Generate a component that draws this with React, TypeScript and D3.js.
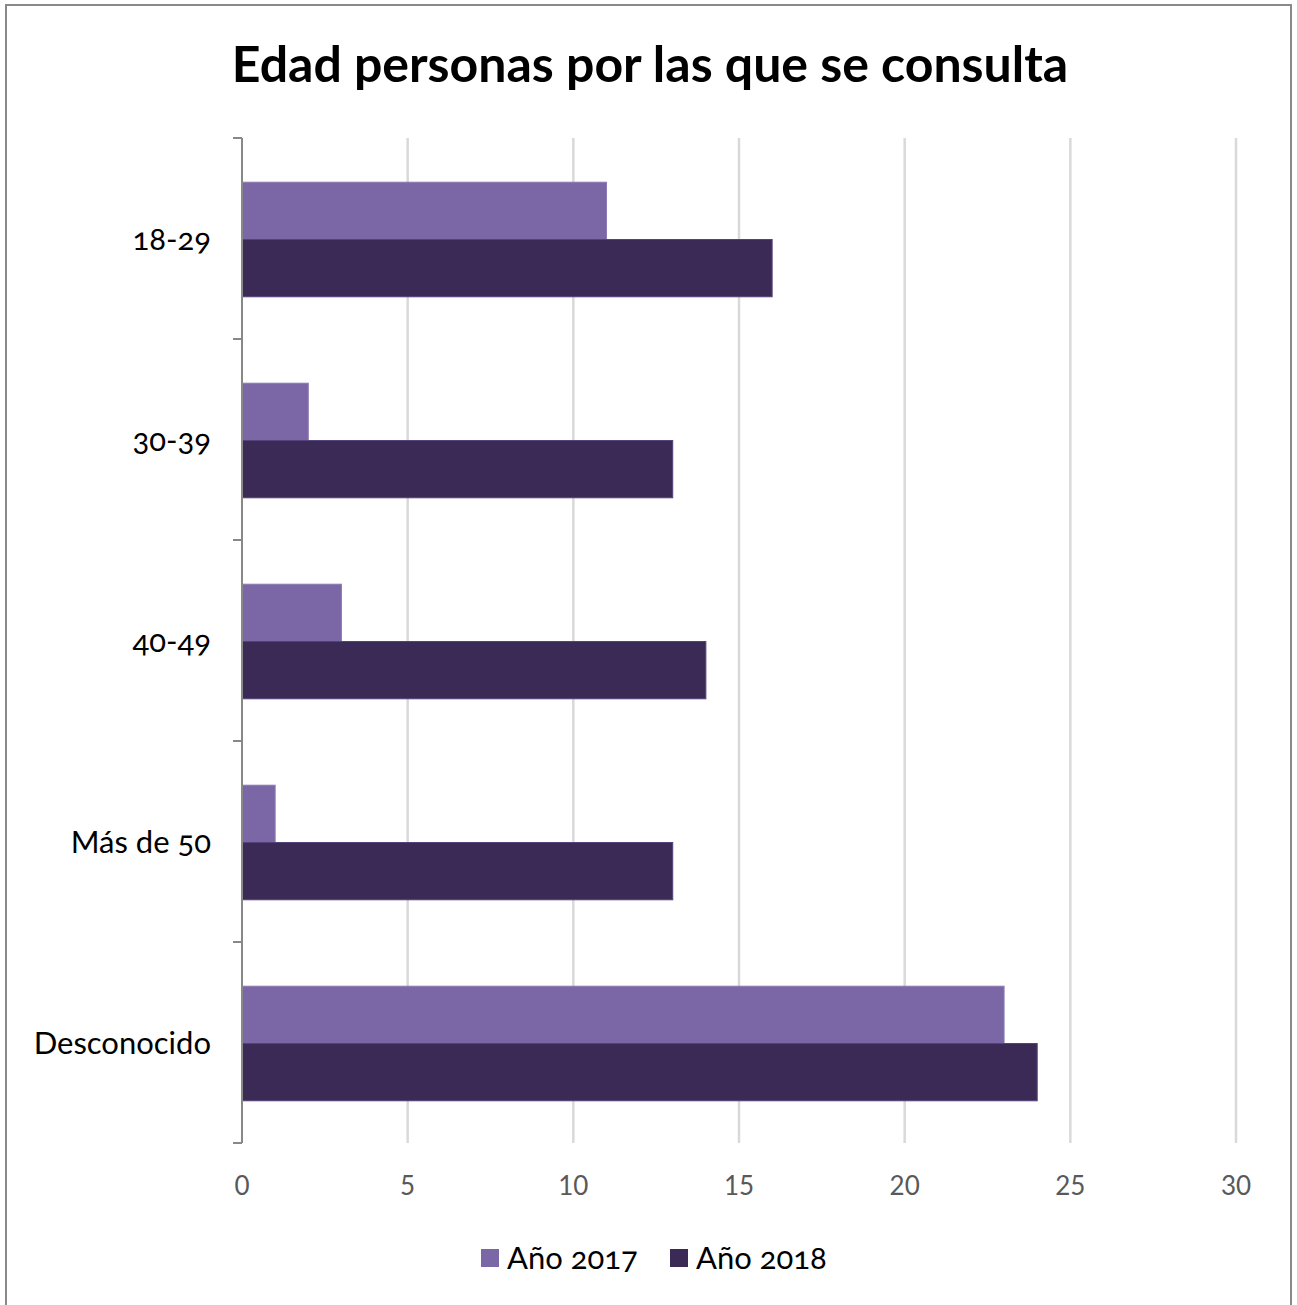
import React from 'react';
import * as d3 from 'd3';

const categories = ['18-29', '30-39', '40-49', 'Más de 50', 'Desconocido'];
const series = ['Año 2017', 'Año 2018'];
const values2017 = [11, 2, 3, 1, 23];
const values2018 = [16, 13, 14, 13, 24];
const xTicks = [0, 5, 10, 15, 20, 25, 30];

const colors = ['#7B67A6', '#3C2A56'];
const width = 1297;
const height = 1305;
const margin = { top: 138, right: 61, bottom: 162, left: 242 };
const font = 'Lato, "Open Sans", sans-serif';

const App: React.FC = () => {
    const xScale = d3.scaleLinear()
        .domain([0, 30])
        .range([margin.left, width - margin.right]);

    const yScale = d3.scaleBand<string>()
        .domain(categories)
        .range([margin.top, height - margin.bottom]);

    const barH = yScale.bandwidth() * 0.285;
    const rows = categories.map((c, i) => ({ label: c, vals: [values2017[i], values2018[i]] }));
    const bandEdges = categories.map(c => yScale(c)!).concat([height - margin.bottom]);

    return (
        <svg width={width} height={height} style={{ position: 'absolute', left: 0, top: 0, background: '#fff' }}>
            <rect x={6} y={5} width={1285} height={1310} fill="#fff" stroke="#898989" strokeWidth={2} />
            <text x={650} y={82} textAnchor="middle" fontFamily={font} fontWeight="bold" fontSize={50} fill="#000">
                Edad personas por las que se consulta
            </text>

            {/* gridlines */}
            {xTicks.slice(1).map(t => (
                <line key={t} x1={xScale(t)} x2={xScale(t)} y1={margin.top} y2={height - margin.bottom}
                      stroke="#d9d9d9" strokeWidth={2.5} />
            ))}

            {/* bars */}
            {rows.map(r => {
                const mid = yScale(r.label)! + yScale.bandwidth() / 2 + 1;
                return r.vals.map((v, j) => (
                    <rect key={r.label + j}
                          x={xScale(0)}
                          y={mid - barH + j * barH}
                          width={xScale(v) - xScale(0)}
                          height={barH}
                          fill={colors[j]}
                          stroke={j === 0 ? '#8a78b2' : '#54437a'}
                          strokeWidth={1} />
                ));
            })}

            {/* y axis */}
            <line x1={margin.left} x2={margin.left} y1={margin.top} y2={height - margin.bottom} stroke="#888" strokeWidth={2} />
            {bandEdges.map((y, i) => (
                <line key={i} x1={margin.left - 9} x2={margin.left} y1={y} y2={y} stroke="#888" strokeWidth={2} />
            ))}
            {categories.map(c => (
                <text key={c} x={211} y={yScale(c)! + yScale.bandwidth() / 2 + 1} dy="0.35em" textAnchor="end"
                      fontFamily={font} fontSize={31} fill="#000" style={{ fontVariantNumeric: 'oldstyle-nums' }}>
                    {c}
                </text>
            ))}

            {/* x tick labels */}
            {xTicks.map(t => (
                <text key={t} x={xScale(t)} y={1186} dy="0.35em" textAnchor="middle"
                      fontFamily={font} fontSize={26} fill="#595959">
                    {t}
                </text>
            ))}

            {/* legend */}
            {series.map((s, i) => {
                const lx = i === 0 ? 481 : 670;
                return (
                    <g key={s}>
                        <rect x={lx} y={1249} width={18} height={18} fill={colors[i]} />
                        <text x={lx + 26} y={1258} dy="0.35em" fontFamily={font} fontSize={31} fill="#000"
                              style={{ fontVariantNumeric: 'oldstyle-nums' }}>
                            {s}
                        </text>
                    </g>
                );
            })}
        </svg>
    );
};

export default App;
